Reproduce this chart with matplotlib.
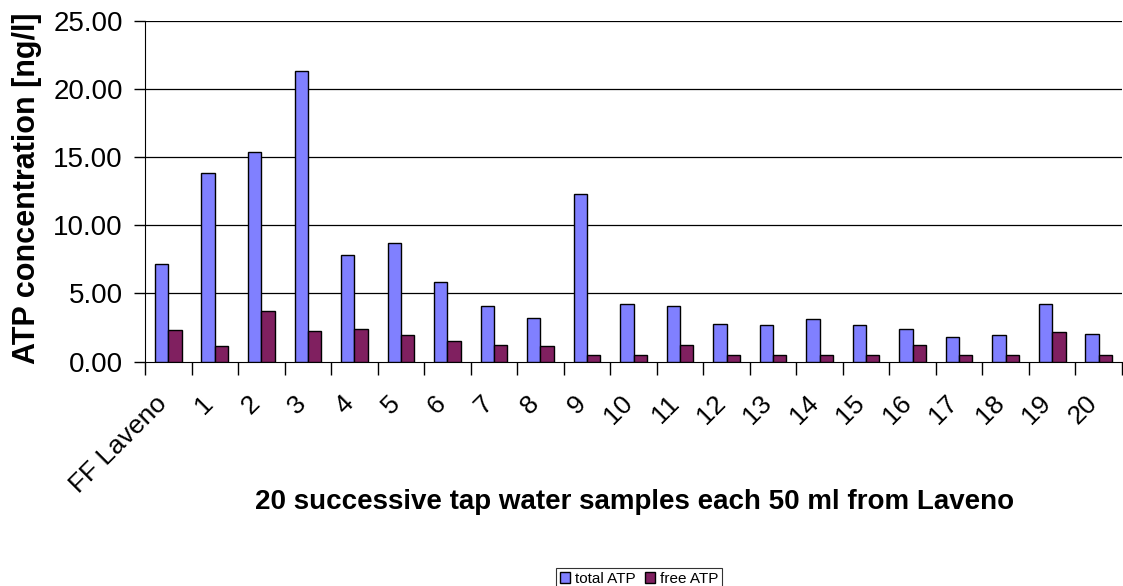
import matplotlib
matplotlib.use("Agg")
import matplotlib.pyplot as plt
import matplotlib.transforms as mtransforms
import numpy as np

categories = ["FF Laveno"] + [str(i) for i in range(1, 21)]
total_atp = [7.14, 13.85, 15.36, 21.33, 7.80, 8.73, 5.87, 4.06, 3.23, 12.28, 4.23,
             4.06, 2.79, 2.67, 3.11, 2.67, 2.37, 1.83, 1.91, 4.23, 2.05]
free_atp = [2.32, 1.13, 3.69, 2.27, 2.40, 1.98, 1.54, 1.22, 1.17, 0.51, 0.51,
            1.22, 0.51, 0.51, 0.51, 0.51, 1.22, 0.51, 0.51, 2.20, 0.51]
yticks = [0, 5, 10, 15, 20, 25]

plt.rcParams['font.family'] = ['Liberation Sans', 'DejaVu Sans']

fig = plt.figure(figsize=(11.23, 5.86), dpi=100)
ax = fig.add_axes([145/1123, 1 - 361.5/586, (1122-145)/1123, (361.5-21)/586])

x = np.arange(len(categories))
w = 0.286
ax.bar(x - w/2, total_atp, w, color='#8080FF', edgecolor='black', linewidth=1, label='total ATP', zorder=3)
ax.bar(x + w/2, free_atp, w, color='#802060', edgecolor='black', linewidth=1, label='free ATP', zorder=3)

ax.set_xlim(-0.5, len(categories) - 0.5)
ax.set_ylim(0, 25)
ax.set_yticks(yticks)
ax.set_yticklabels([f"{v:.2f}" for v in yticks], fontsize=20)
for v in yticks[1:]:
    ax.axhline(v, color='black', lw=0.9, zorder=1)

ax.set_xticks(np.arange(len(categories) + 1) - 0.5, minor=False)
ax.set_xticklabels([])
ax.tick_params(axis='x', length=9, width=1, direction='out', color='black')
ax.tick_params(axis='y', length=8, width=1, direction='out', color='black', pad=8)
for s in ['top', 'right']:
    ax.spines[s].set_visible(False)
ax.spines['left'].set_color('black')
ax.spines['bottom'].set_color('black')

offset = mtransforms.ScaledTranslation(-0.05, -0.38, fig.dpi_scale_trans)
for i, c in enumerate(categories):
    ax.text(i, 0, c, rotation=45, rotation_mode='anchor', ha='right', va='center',
            fontsize=19, transform=ax.get_xaxis_transform() + offset)

fig.text(635/1123, 1 - 502/586, "20 successive tap water samples each 50 ml from Laveno",
         ha='center', va='center', fontsize=20, fontweight='bold')
fig.text(27/1123, 1 - 188/586, "ATP concentration [ng/l]", rotation=90,
         ha='center', va='center', fontsize=22, fontweight='bold')

leg = fig.legend(loc='center', bbox_to_anchor=(639/1123, 1 - 579/586), ncol=2, fontsize=11,
                 frameon=True, fancybox=False, edgecolor='black', handlelength=0.7,
                 handleheight=0.7, handletextpad=0.3, columnspacing=0.6, borderpad=0.25)
leg.get_frame().set_linewidth(0.8)

fig.savefig("out.png", dpi=100)
